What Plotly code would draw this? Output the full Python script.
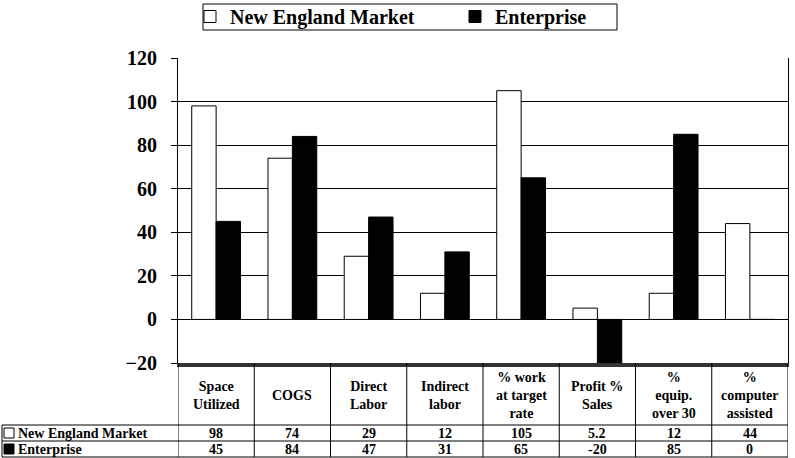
import plotly.graph_objects as go

categories = ["Space Utilized", "COGS", "Direct Labor", "Indirect labor",
              "% work at target rate", "Profit % Sales", "% equip. over 30",
              "% computer assisted"]
header_labels = ["Space<br>Utilized", "COGS", "Direct<br>Labor", "Indirect<br>labor",
                 "% work<br>at target<br>rate", "Profit %<br>Sales", "%<br>equip.<br>over 30",
                 "%<br>computer<br>assisted"]
new_england = [98, 74, 29, 12, 105, 5.2, 12, 44]
enterprise = [45, 84, 47, 31, 65, -20, 85, 0]
series_names = ["New England Market", "Enterprise"]
y_ticks = [-20, 0, 20, 40, 60, 80, 100, 120]

W, H = 795, 458
FONT = "Liberation Serif"

def px(x):
    return x / W

def py(y):
    return 1 - y / H

fig = go.Figure()
fig.add_trace(go.Bar(x=categories, y=new_england, name=series_names[0],
                     marker=dict(color="white", line=dict(color="black", width=1))))
fig.add_trace(go.Bar(x=categories, y=enterprise, name=series_names[1],
                     marker=dict(color="black", line=dict(color="black", width=1))))

shapes = []
ann = []
n = len(categories)
# table horizontal lines
for yy in [425, 441, 457]:
    shapes.append(dict(type="line", xref="paper", yref="paper",
                       x0=px(2), x1=px(788), y0=py(yy), y1=py(yy),
                       line=dict(color="black", width=1)))
# table vertical lines
for i in range(n + 1):
    shapes.append(dict(type="line", xref="x", yref="paper",
                       x0=i - 0.5, x1=i - 0.5, y0=py(363), y1=py(457),
                       line=dict(color="black", width=1)))
shapes.append(dict(type="line", xref="paper", yref="paper",
                   x0=px(2), x1=px(2), y0=py(425), y1=py(457),
                   line=dict(color="black", width=1)))
# row label keys
shapes.append(dict(type="rect", xref="paper", yref="paper",
                   x0=px(4), x1=px(14), y0=py(438), y1=py(428),
                   line=dict(color="black", width=1), fillcolor="white"))
shapes.append(dict(type="rect", xref="paper", yref="paper",
                   x0=px(4), x1=px(14), y0=py(454), y1=py(444),
                   line=dict(color="black", width=1), fillcolor="black"))
# legend border
shapes.append(dict(type="rect", xref="paper", yref="paper",
                   x0=px(203), x1=px(617), y0=py(30), y1=py(4),
                   line=dict(color="black", width=1), fillcolor="rgba(0,0,0,0)"))

tf = dict(family=FONT, size=14, color="black", weight="bold")
for i, lab in enumerate(header_labels):
    ann.append(dict(x=categories[i], y=py(395), xref="x", yref="paper",
                    yanchor="middle", text=lab, showarrow=False, font=tf, align="center"))
    ann.append(dict(x=categories[i], y=py(433), xref="x", yref="paper", yanchor="middle",
                    text=f"{new_england[i]:g}", showarrow=False, font=tf))
    ann.append(dict(x=categories[i], y=py(449), xref="x", yref="paper", yanchor="middle",
                    text=f"{enterprise[i]:g}", showarrow=False, font=tf))
ann.append(dict(x=px(16), y=py(433), xref="paper", yref="paper", xanchor="left",
                yanchor="middle", text=series_names[0], showarrow=False, font=tf))
ann.append(dict(x=px(16), y=py(449), xref="paper", yref="paper", xanchor="left",
                yanchor="middle", text=series_names[1], showarrow=False, font=tf))

fig.update_layout(
    width=W, height=H,
    margin=dict(l=0, r=0, t=0, b=0, autoexpand=False),
    paper_bgcolor="white", plot_bgcolor="white",
    barmode="group", bargap=0.36, bargroupgap=0.0,
    font=dict(family=FONT, color="black"),
    xaxis=dict(domain=[px(178), px(788)], showticklabels=False, ticks="",
               showgrid=False, showline=True, linecolor="#333", linewidth=4,
               mirror=False, range=[-0.5, n - 0.5], automargin=False),
    yaxis=dict(domain=[py(363), py(58)], range=[-20, 120], tickvals=y_ticks,
               showgrid=True, gridcolor="black", gridwidth=1,
               zeroline=True, zerolinecolor="black", zerolinewidth=1,
               showline=True, linecolor="black", linewidth=1, mirror=True,
               ticks="outside", ticklen=6, tickcolor="black", automargin=False,
               ticklabelstandoff=10,
               tickfont=dict(family=FONT, size=20, color="black", weight="bold")),
    legend=dict(orientation="h", x=px(190), xanchor="left", y=py(-3), yanchor="top",
                entrywidth=220, entrywidthmode="pixels", bgcolor="rgba(0,0,0,0)",
                font=dict(family=FONT, size=20, color="black", weight="bold"),
                traceorder="normal"),
    shapes=shapes, annotations=ann,
)
fig.write_html("out.html")
